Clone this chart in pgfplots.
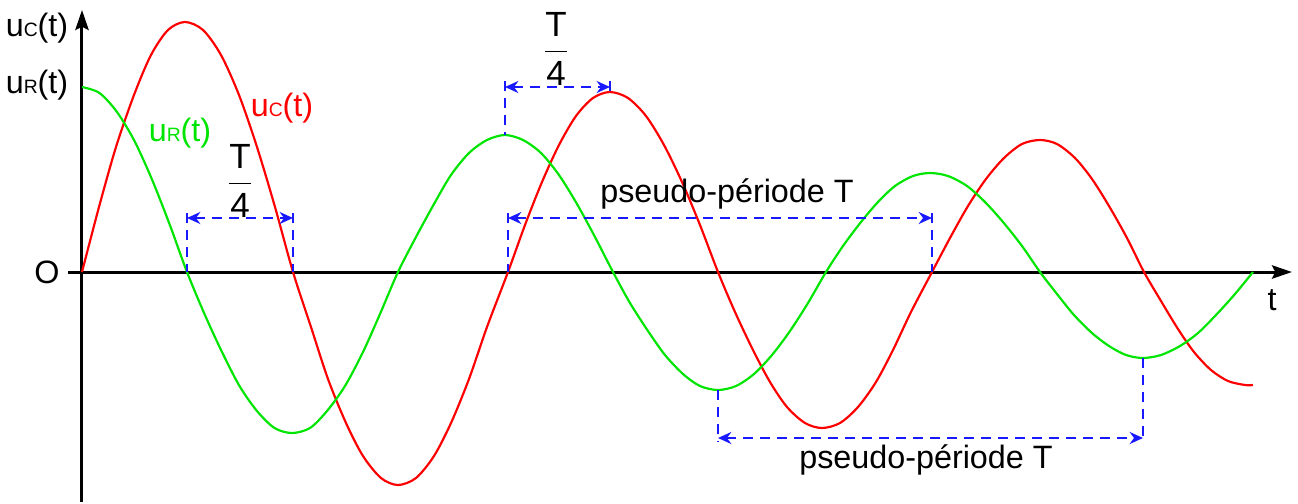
\documentclass[border=0pt]{standalone}
\usepackage{pgfplots}
\pgfplotsset{compat=1.18}
\usepackage{fontspec}
\setmainfont{Liberation Sans}
\usetikzlibrary{arrows.meta}
\definecolor{cred}{rgb}{1,0,0}
\definecolor{cgreen}{rgb}{0,0.9,0}
\definecolor{cblue}{rgb}{0.1,0.1,1}
\newcommand{\sub}[1]{{\fontsize{5.8}{6}\selectfont #1}}
\newcommand{\quart}{{\fontsize{10.5}{12}\selectfont$\displaystyle\frac{\mbox{T}}{\mbox{4}}$}}
\tikzset{
  dim/.style={cblue, line width=0.6pt, dash pattern=on 3pt off 2.1pt},
  dimarrow/.style={dim, {Stealth[length=4pt,width=3.6pt,inset=1.3pt]}-{Stealth[length=4pt,width=3.6pt,inset=1.3pt]}},
}
\begin{document}
\fontsize{9.7}{11}\selectfont
\begin{tikzpicture}
\begin{axis}[
  x=0.3pt, y=0.3pt,
  xmin=-82, xmax=1216, ymin=-230, ymax=272,
  hide axis, clip=false,
]
% invisible frame fixing the picture size
\path (rel axis cs:0,0) rectangle (rel axis cs:1,1);
% axes
\draw[black, line width=0.9pt, -{Stealth[length=6pt,width=4pt,inset=1pt]}] (axis cs:-14,0) -- (axis cs:1210,0);
\draw[black, line width=0.9pt, -{Stealth[length=6pt,width=4pt,inset=1pt]}] (axis cs:0,-230) -- (axis cs:0,262);

% u_C(t)
\addplot[cred, line width=0.65pt, smooth] coordinates {
(0,0)(17,65)(34,125)(52,177)(69,217)(86,242)(103,250)
(121,242)(139,217)(157,177)(175,125)(193,65)(211,0)
(229,-55)(246,-107)(264,-151)(281,-184)(299,-206)(316,-213)
(334,-206)(352,-184)(369,-151)(387,-107)(405,-55)(426,0)
(443,47)(460,90)(477,127)(494,156)(511,174)(528,180)
(546,174)(564,156)(582,127)(600,90)(618,47)(636,0)
(653,-40)(671,-78)(688,-110)(705,-135)(723,-151)(740,-156)
(758,-151)(776,-135)(794,-110)(811,-78)(829,-40)(850,0)
(868,34)(886,66)(904,93)(922,114)(940,128)(958,132)
(975,128)(993,114)(1010,93)(1027,66)(1045,34)(1062,0)
(1079,-29)(1096,-57)(1112,-80)(1129,-98)(1146,-109)(1163,-113)(1171,-113)
};
% u_R(t)
\addplot[cgreen, line width=0.65pt, smooth] coordinates {
(0,185)(17.5,179)(35,160)(52.5,131)(70,92.5)(87.5,48)(105,0)
(122.5,-42)(140,-80)(157.5,-114)(175,-139)(192.5,-156)(210,-161)
(228,-156)(245,-139)(263,-114)(281,-80)(298,-42)(316,0)
(334,35)(352,68)(369,97)(387,119)(405,132)(423,137)
(441,132)(459,119)(477,97)(495,68)(513,35)(531,0)
(548,-31)(566,-59)(583,-83)(601,-102)(618,-114)(636,-118)
(654,-114)(672,-102)(690,-83)(708,-59)(726,-31)(744,0)
(761,26)(779,50)(796,70)(813,86)(831,96)(848,99)
(866,96)(885,86)(903,70)(921,50)(940,26)(958,0)
(975,-22)(992,-43)(1010,-61)(1027,-74)(1044,-83)(1061,-86)
(1079,-83)(1098,-74)(1116,-61)(1134,-43)(1153,-22)(1171,0)
};

% dimension 1: T/4 left
\draw[dim] (axis cs:105,59) -- (axis cs:105,0);
\draw[dim] (axis cs:211,59) -- (axis cs:211,0);
\draw[dimarrow] (axis cs:105,54) -- (axis cs:211,54);
\node at (axis cs:158,91) {\quart};

% dimension 2: T/4 top
\draw[dim] (axis cs:423,191) -- (axis cs:423,137);
\draw[dim] (axis cs:528,191) -- (axis cs:528,180);
\draw[dimarrow] (axis cs:423,185) -- (axis cs:528,185);
\node at (axis cs:474,223) {\quart};

% dimension 3: pseudo-periode top
\draw[dim] (axis cs:426,59) -- (axis cs:426,0);
\draw[dim] (axis cs:850,59) -- (axis cs:850,0);
\draw[dimarrow] (axis cs:426,54) -- (axis cs:850,54);
\node at (axis cs:645,78) {pseudo-période T};

% dimension 4: pseudo-periode bottom
\draw[dim] (axis cs:636,-118) -- (axis cs:636,-170);
\draw[dim] (axis cs:1061,-86) -- (axis cs:1061,-170);
\draw[dimarrow] (axis cs:636,-166) -- (axis cs:1061,-166);
\node at (axis cs:844,-188) {pseudo-période T};

% labels
\node[inner sep=0pt] at (axis cs:-45,244) {u\sub{C}(t)};
\node[inner sep=0pt] at (axis cs:-45,187) {u\sub{R}(t)};
\node[inner sep=0pt] at (axis cs:-35,0) {O};
\node[inner sep=0pt] at (axis cs:1190,-28) {t};
\node[cred] at (axis cs:200,164) {u\sub{C}(t)};
\node[cgreen] at (axis cs:98,139) {u\sub{R}(t)};
\end{axis}
\end{tikzpicture}
\end{document}
